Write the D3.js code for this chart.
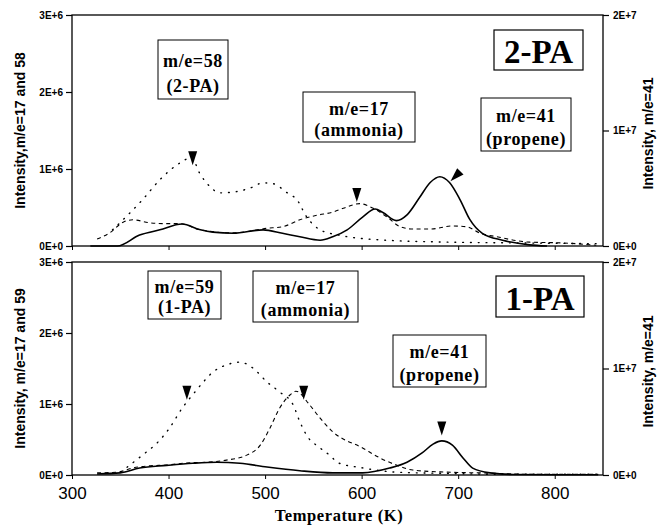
<!DOCTYPE html>
<html><head><meta charset="utf-8">
<script src="https://cdn.jsdelivr.net/npm/d3@7"></script>
<style>body{margin:0;background:#fff}svg{display:block}</style>
</head><body><svg id="c" width="665" height="525"></svg>
<script>
// ---- data (temperature K, intensity) ----
const xTicks = [300,400,500,600,700,800];
const leftTicks = [0,1e6,2e6,3e6];
const leftTickLabels = ["0E+0","1E+6","2E+6","3E+6"];
const rightTicks = [0,1e7,2e7];
const rightTickLabels = ["0E+0","1E+7","2E+7"];

// Top panel (2-PA)
const top58T = [342,373,391,412,424,432,443,453,467,484,498,508,523,533,543,557,577,619,691,760,847];
const top58V = [0.21,0.60,0.86,1.08,1.15,0.95,0.77,0.69,0.70,0.75,0.82,0.81,0.69,0.60,0.38,0.21,0.14,0.08,0.05,0.04,0.03].map(v=>v*1e6);
const top17T = [326,339,353,363,381,398,412,433,467,502,518,536,554,570,581,598,612,626,640,653,671,694,709,722,740,774,808,843];
const top17V = [0.09,0.17,0.31,0.34,0.30,0.29,0.29,0.21,0.17,0.23,0.25,0.34,0.40,0.44,0.49,0.55,0.49,0.38,0.25,0.22,0.22,0.26,0.25,0.17,0.12,0.05,0.04,0.01].map(v=>v*1e6);
const top41T = [319,347,370,391,414,433,446,467,498,518,536,557,570,585,601,614,622,636,647,660,671,681,691,702,712,725,746,774,792];
const top41V = [0,0,0.095,0.14,0.19,0.14,0.12,0.11,0.14,0.11,0.08,0.05,0.08,0.14,0.25,0.32,0.29,0.22,0.27,0.42,0.55,0.60,0.55,0.40,0.23,0.11,0.05,0.01,0].map(v=>v*1e7);

// Bottom panel (1-PA)
const bot59T = [357,373,388,401,414,425,436,446,460,474,487,502,515,529,536,543,557,570,574,601,636,700,740,800,845];
const bot59V = [0.11,0.28,0.45,0.66,0.94,1.13,1.31,1.45,1.55,1.59,1.51,1.31,1.17,0.99,0.75,0.56,0.38,0.24,0.18,0.10,0.04,0.02,0.01,0.01,0.01].map(v=>v*1e6);
const bot17T = [326,347,363,381,398,419,440,460,481,495,505,515,526,532,546,557,570,601,619,636,653,688,722,774,845];
const bot17V = [0.03,0.04,0.10,0.13,0.14,0.17,0.18,0.21,0.28,0.42,0.66,0.94,1.13,1.18,0.99,0.80,0.61,0.38,0.24,0.14,0.07,0.04,0.03,0.01,0.01].map(v=>v*1e6);
const bot41T = [326,350,370,398,425,450,474,502,536,570,601,629,647,663,674,683,694,705,715,733,757,800,845];
const bot41V = [0.01,0.02,0.065,0.09,0.11,0.12,0.11,0.075,0.04,0.02,0.02,0.065,0.12,0.21,0.29,0.32,0.28,0.16,0.065,0.02,0.005,0.003,0.003].map(v=>v*1e7);

// annotation texts
const topBoxes = [["m/e=58","(2-PA)"],["m/e=17","(ammonia)"],["m/e=41","(propene)"]];
const botBoxes = [["m/e=59","(1-PA)"],["m/e=17","(ammonia)"],["m/e=41","(propene)"]];

// ---- layout ----
const svg = d3.select("#c");
const L = 72, R = 603;
const x = d3.scaleLinear().domain([300,850]).range([L,R]);

const panels = [
  {y0:15, y1:246, name:"2-PA", leftTitle:"Intensity,m/e=17 and 58",
   series:[[top58T,top58V,"dot","L"],[top17T,top17V,"dash","L"],[top41T,top41V,"solid","R"]],
   boxes:topBoxes, boxPos:[[158,40,70,59],[303,92,112,50],[481,98,90,53]], bigBox:[494,30,89,40],
   arrows:[[425,1.05e6,"L",0],[595,0.57e6,"L",0],[692,0.56e7,"R",45]]},
  {y0:262, y1:475, name:"1-PA", leftTitle:"Intensity, m/e=17 and 59",
   series:[[bot59T,bot59V,"dot","L"],[bot17T,bot17V,"dash","L"],[bot41T,bot41V,"solid","R"]],
   boxes:botBoxes, boxPos:[[148,271,73,48],[253,271,105,51],[393,335,93,52]], bigBox:[496,276,88,41],
   arrows:[[419,1.06e6,"L",0],[540,1.06e6,"L",0],[683,0.37e7,"R",0]]}
];

panels.forEach((p,pi)=>{
  const yL = d3.scaleLinear().domain([0,3e6]).range([p.y1,p.y0]);
  const yR = d3.scaleLinear().domain([0,2e7]).range([p.y1,p.y0]);
  const g = svg.append("g");
  g.append("rect").attr("x",L).attr("y",p.y0).attr("width",R-L).attr("height",p.y1-p.y0)
    .attr("fill","none").attr("stroke","#000").attr("stroke-width",1.3);
  const ax = d3.axisLeft(yL).tickValues(leftTicks).tickFormat((d,i)=>leftTickLabels[i]).tickSize(6).tickPadding(3);
  const ga = g.append("g").attr("transform",`translate(${L},0)`).call(ax);
  ga.select(".domain").remove();
  ga.selectAll("text").attr("font-family","Liberation Sans, Arial").attr("font-weight","bold").attr("font-size",10).attr("fill","#000");
  ga.selectAll("line").attr("stroke","#000").attr("stroke-width",1.2);
  const ar = d3.axisRight(yR).tickValues(rightTicks).tickFormat((d,i)=>rightTickLabels[i]).tickSize(6).tickPadding(4);
  const gr = g.append("g").attr("transform",`translate(${R},0)`).call(ar);
  gr.select(".domain").remove();
  gr.selectAll("text").attr("font-family","Liberation Sans, Arial").attr("font-weight","bold").attr("font-size",10).attr("fill","#000");
  gr.selectAll("line").attr("stroke","#000").attr("stroke-width",1.2);
  const ab = d3.axisBottom(x).tickValues(xTicks).tickSize(4).tickPadding(8)
     .tickFormat(pi===1 ? d3.format("d") : "");
  const gb = g.append("g").attr("transform",`translate(0,${p.y1})`).call(ab);
  gb.select(".domain").remove();
  gb.selectAll("line").attr("stroke","#000");
  gb.selectAll("text").attr("font-family","Liberation Sans, Arial").attr("font-size",17).attr("fill","#000");
  g.append("text").attr("transform",`translate(25,${(p.y0+p.y1)/2}) rotate(-90)`)
    .attr("text-anchor","middle").attr("font-family","Liberation Sans, Arial").attr("font-weight","bold")
    .attr("font-size",14).text(p.leftTitle);
  g.append("text").attr("transform",`translate(653,${(p.y0+p.y1)/2+3}) rotate(-90)`)
    .attr("text-anchor","middle").attr("font-family","Liberation Sans, Arial").attr("font-weight","bold")
    .attr("font-size",14).text("Intensity, m/e=41");
  p.series.forEach(([T,V,style,side])=>{
    const ys = side==="L"?yL:yR;
    const line = d3.line().x((d,i)=>x(T[i])).y((d,i)=>ys(V[i])).curve(d3.curveMonotoneX);
    const path = g.append("path").datum(V).attr("d",line).attr("fill","none").attr("stroke","#000");
    if(style==="solid") path.attr("stroke-width",1.6);
    if(style==="dash") path.attr("stroke-width",1.1).attr("stroke-dasharray","4,3.5");
    if(style==="dot") path.attr("stroke-width",1.4).attr("stroke-dasharray","0.8,7").attr("stroke-linecap","round");
  });
  p.boxes.forEach((b,i)=>{
    const [bx,by,bw,bh] = p.boxPos[i];
    g.append("rect").attr("x",bx).attr("y",by).attr("width",bw).attr("height",bh)
      .attr("fill","#fff").attr("stroke","#000").attr("stroke-width",1);
    b.forEach((t,j)=>{
      g.append("text").attr("x",bx+bw/2).attr("y",by+bh*(j===0?0.45:0.88))
        .attr("text-anchor","middle").attr("font-family","Liberation Serif, Times New Roman")
        .attr("font-weight","bold").attr("font-size",18).attr("letter-spacing",0.6).text(t);
    });
  });
  const [qx,qy,qw,qh] = p.bigBox;
  g.append("rect").attr("x",qx).attr("y",qy).attr("width",qw).attr("height",qh)
    .attr("fill","#fff").attr("stroke","#000").attr("stroke-width",1.2);
  g.append("text").attr("x",qx+qw/2).attr("y",qy+qh*0.83).attr("text-anchor","middle")
    .attr("font-family","Liberation Serif, Times New Roman").attr("font-weight","bold").attr("font-size",33).text(p.name);
  p.arrows.forEach(([T,v,side,rot])=>{
    const ys = side==="L"?yL:yR;
    const tx = x(T), ty = ys(v);
    g.append("path").attr("d","M0,0 L-4.5,-14 L4.5,-14 Z").attr("fill","#000")
      .attr("transform",`translate(${tx},${ty}) rotate(${rot})`);
  });
});

svg.append("text").attr("x",339).attr("y",521).attr("text-anchor","middle")
  .attr("font-family","Liberation Serif, Times New Roman").attr("font-weight","bold").attr("font-size",16.5)
  .attr("letter-spacing",0.6).text("Temperature (K)");
</script></body></html>
